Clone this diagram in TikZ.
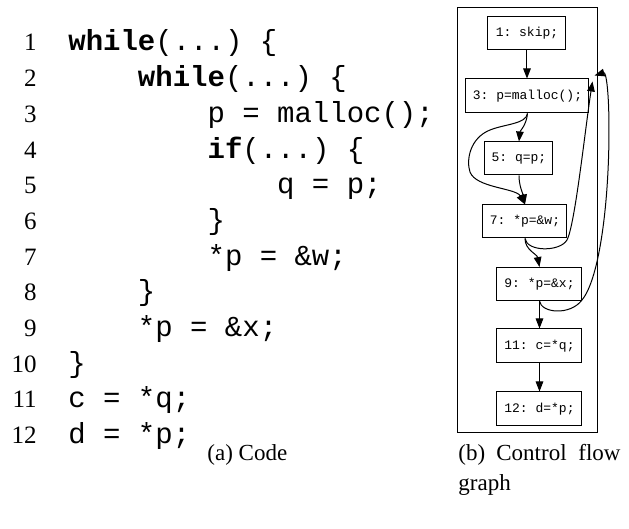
\documentclass[tikz,border=0pt]{standalone}
\usepackage{fontspec}
\setmainfont{Liberation Serif}
\setmonofont{Liberation Mono}
\usetikzlibrary{arrows.meta,calc}
\begin{document}
\begin{tikzpicture}[x=0.5pt,y=-0.5pt,
  lnum/.style={anchor=base east,inner sep=0pt,font=\fontsize{12.5}{14}\selectfont},
  code/.style={anchor=base west,inner sep=0pt,font=\fontsize{14.5}{17}\selectfont\ttfamily},
  captxt/.style={anchor=base west,inner sep=0pt,font=\fontsize{11.5}{13}\selectfont},
  blk/.style={draw,line width=0.5pt,inner sep=0pt,font=\fontsize{6.5}{7}\selectfont\ttfamily},
  edge/.style={line width=0.5pt,-{Triangle[length=5pt,width=3.8pt]}}]
\useasboundingbox (0,0) rectangle (629,529);

% line numbers of the listing
\foreach \k in {1,...,12}
  \node[lnum] (ln\k) at (37,{51+35.7*(\k-1)}) {\k};

% listing, one column = 17.4 units
\node[code] (c1)  at (68,51)   {\textbf{while}(...) \{};
\node[code] (c2)  at (137.6,86.7) {\textbf{while}(...) \{};
\node[code] (c3)  at (207.2,122.4) {p = malloc();};
\node[code] (c4)  at (207.2,158.1) {\textbf{if}(...) \{};
\node[code] (c5)  at (276.8,193.8) {q = p;};
\node[code] (c6)  at (207.2,229.5) {\}};
\node[code] (c7)  at (207.2,265.2) {*p = \&w;};
\node[code] (c8)  at (137.6,300.9) {\}};
\node[code] (c9)  at (137.6,336.6) {*p = \&x;};
\node[code] (c10) at (68,372.3)  {\}};
\node[code] (c11) at (68,408.0)  {c = *q;};
\node[code] (c12) at (68,443.7)  {d = *p;};

% captions
\node[captxt] (capa) at (207,461) {(a)\ Code};
\node[captxt] (capb1) at (458,461) {(b)};
\node[captxt] (capb2) at (496,461) {Control};
\node[captxt,anchor=base east] (capb3) at (621,461) {flow};
\node[captxt] (capb4) at (458,491) {graph};

% control flow graph
\node[draw,line width=0.5pt,inner sep=0pt,minimum width=70pt,minimum height=212.5pt] (frame) at (528,220.5) {};
\node[blk,minimum width=39pt,minimum height=16.5pt] (b1) at (527,33.5) {1: skip;};
\node[blk,minimum width=61.5pt,minimum height=17pt] (b3) at (527.5,96) {3: p=malloc();};
\node[blk,minimum width=34pt,minimum height=16.5pt] (b5) at (519,158.5) {5: q=p;};
\node[blk,minimum width=42pt,minimum height=16.5pt] (b7) at (525,221.5) {7: *p=\&w;};
\node[blk,minimum width=42.5pt,minimum height=16.5pt] (b9) at (539.5,284) {9: *p=\&x;};
\node[blk,minimum width=42.5pt,minimum height=17pt] (b11) at (539.5,346) {11: c=*q;};
\node[blk,minimum width=42.5pt,minimum height=17pt] (b12) at (539.5,409) {12: d=*p;};

\draw[edge] (b1.south) -- (b1.south |- b3.north);
\draw[edge] (b3.south) .. controls (526.5,125) and (520,131) .. (b5.north);
\draw[edge] (b3.south) .. controls (526,124) and (505,124) .. (490,130)
  .. controls (470,138) and (466,160) .. (470,172)
  .. controls (476,188) and (516,188) .. (b7.north);
\draw[edge] (b5.south) .. controls (519,186) and (523,194) .. (b7.north);
\draw[edge] (b7.south) .. controls (525,250) and (537,254) .. (b9.north);
\draw[edge] (b7.south) .. controls (527,252) and (560,252) .. (567,240)
  .. controls (575,225) and (585,130) .. ($(b3.north east)+(3,3)$);
\draw[edge] (b9.south) .. controls (541,313) and (570,316) .. (582,300)
  .. controls (600,278) and (609,200) .. (609,130)
  .. controls (609,90) and (606,72) .. ($(b3.north east)+(5,-3)$);
\draw[edge] (b9.south) -- (b11.north);
\draw[edge] (b11.south) -- (b12.north);
\end{tikzpicture}
\end{document}
